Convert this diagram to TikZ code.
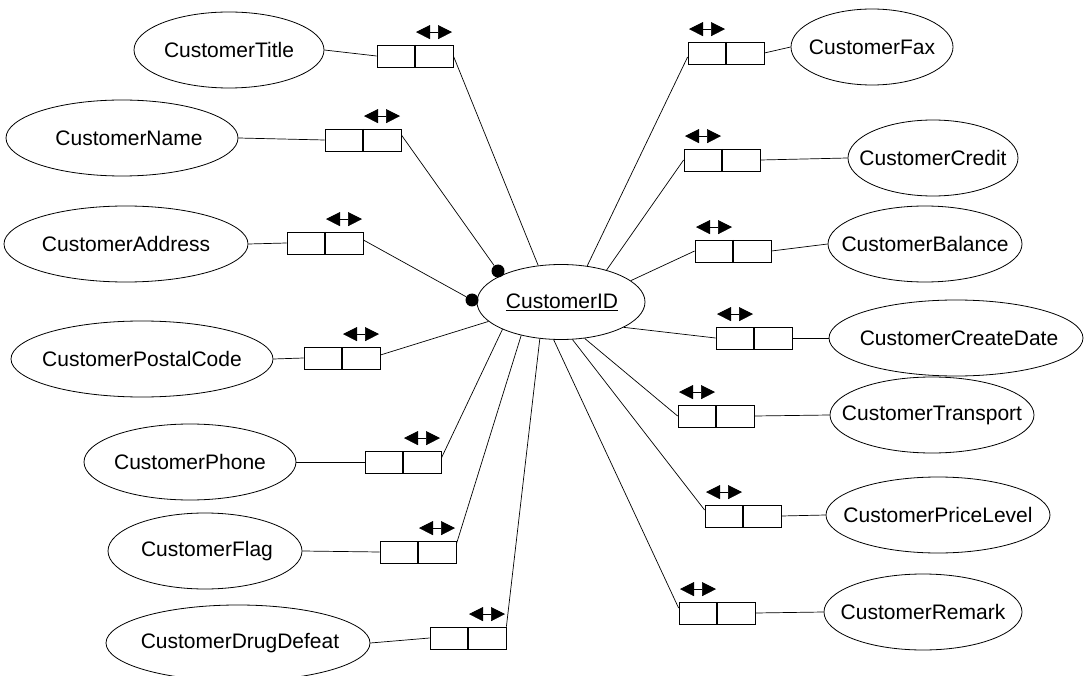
\documentclass[tikz,border=0pt]{standalone}
\usepackage{fontspec}
\setmainfont{Liberation Sans}
\usetikzlibrary{arrows.meta,shapes.geometric}
\newcommand\keyarrL[1]{\draw[dbl] ([xshift=1pt,yshift=12.5pt]#1.north) -- ([xshift=37pt,yshift=12.5pt]#1.north);}
\newcommand\keyarrR[1]{\draw[dbl] ([xshift=-37pt,yshift=12.5pt]#1.north) -- ([xshift=-1pt,yshift=12.5pt]#1.north);}
\begin{document}
\begin{tikzpicture}[x=1pt,y=-1pt,
  attr/.style={draw, ellipse, line width=0.8pt, minimum height=76pt, inner sep=0pt},
  lbl/.style={font=\fontsize{21}{25}\selectfont, inner sep=0pt},
  keybox/.style={draw, rectangle, line width=0.8pt, minimum width=76pt, minimum height=22pt, inner sep=0pt,
    path picture={\draw[line width=1.3pt] (path picture bounding box.north) -- (path picture bounding box.south);}},
  conn/.style={line width=0.7pt},
  dbl/.style={line width=0.5pt, {Triangle[length=14pt,width=14pt]}-{Triangle[length=14pt,width=14pt]}},
  dot/.style={circle, fill, inner sep=0pt, minimum size=13pt}
]
\useasboundingbox (0,0) rectangle (1084,676);

% central entity
\node[attr, minimum width=168pt, minimum height=75pt] (cid) at (561,302) {};
\node[lbl] (cidt) at (562,302) {\underline{CustomerID}};

% left attributes
\node[attr, minimum width=190pt] (title) at (229,50) {};
\node[lbl] (titlet) at (title) {CustomerTitle};
\node[attr, minimum width=232pt] (name) at (122,138) {};
\node[lbl] (namet) at (129,138) {CustomerName};
\node[attr, minimum width=244pt] (addr) at (126,244) {};
\node[lbl] (addrt) at (addr) {CustomerAddress};
\node[attr, minimum width=262pt] (postal) at (142,359) {};
\node[lbl] (postalt) at (postal) {CustomerPostalCode};
\node[attr, minimum width=212pt] (phone) at (190,462) {};
\node[lbl] (phonet) at (phone) {CustomerPhone};
\node[attr, minimum width=194pt] (flag) at (205,551) {};
\node[lbl] (flagt) at (207,551) {CustomerFlag};
\node[attr, minimum width=264pt] (drug) at (238,643) {};
\node[lbl] (drugt) at (240,643) {CustomerDrugDefeat};

% right attributes
\node[attr, minimum width=162pt] (fax) at (872,47) {};
\node[lbl] (faxt) at (fax) {CustomerFax};
\node[attr, minimum width=170pt] (credit) at (933,158) {};
\node[lbl] (creditt) at (credit) {CustomerCredit};
\node[attr, minimum width=194pt] (balance) at (925,244) {};
\node[lbl] (balancet) at (balance) {CustomerBalance};
\node[attr, minimum width=254pt] (create) at (956,338) {};
\node[lbl] (createt) at (959,338) {CustomerCreateDate};
\node[attr, minimum width=204pt] (transport) at (932,415) {};
\node[lbl] (transportt) at (transport) {CustomerTransport};
\node[attr, minimum width=224pt] (price) at (938,515) {};
\node[lbl] (pricet) at (price) {CustomerPriceLevel};
\node[attr, minimum width=198pt] (remark) at (923,612) {};
\node[lbl] (remarkt) at (remark) {CustomerRemark};

% key boxes
\node[keybox] (bTitle) at (415,56) {};
\node[keybox] (bName) at (363,140) {};
\node[keybox] (bAddr) at (325,243) {};
\node[keybox] (bPostal) at (342,358) {};
\node[keybox] (bPhone) at (403,462) {};
\node[keybox] (bFlag) at (418,552) {};
\node[keybox] (bDrug) at (468,638) {};
\node[keybox] (bFax) at (726,53) {};
\node[keybox] (bCredit) at (722,160) {};
\node[keybox] (bBalance) at (733,251) {};
\node[keybox] (bCreate) at (754,338) {};
\node[keybox] (bTransport) at (716,416) {};
\node[keybox] (bPrice) at (743,516) {};
\node[keybox] (bRemark) at (717,613) {};

% dots
\node[dot] (d1) at (498,271) {};
\node[dot] (d2) at (472,300) {};

% double arrows
\keyarrL{bTitle}\keyarrL{bName}\keyarrL{bAddr}\keyarrL{bPostal}
\keyarrL{bPhone}\keyarrL{bFlag}\keyarrL{bDrug}
\keyarrR{bFax}\keyarrR{bCredit}\keyarrR{bBalance}\keyarrR{bCreate}
\keyarrR{bTransport}\keyarrR{bPrice}\keyarrR{bRemark}

% attribute to box
\draw[conn] (title.east) -- (bTitle.west);
\draw[conn] (name.east) -- (bName.west);
\draw[conn] (addr.east) -- (bAddr.west);
\draw[conn] (postal.east) -- (bPostal.west);
\draw[conn] (phone.east) -- (bPhone.west);
\draw[conn] (flag.east) -- (bFlag.west);
\draw[conn] (drug.east) -- (bDrug.west);
\draw[conn] (bFax.east) -- (fax.west);
\draw[conn] (bCredit.east) -- (credit.west);
\draw[conn] (bBalance.east) -- (balance.west);
\draw[conn] (bCreate.east) -- (create.west);
\draw[conn] (bTransport.east) -- (transport.west);
\draw[conn] (bPrice.east) -- (price.west);
\draw[conn] (bRemark.east) -- (remark.west);

% box to central entity
\draw[conn] (bTitle.east) -- (cid.122);
\draw[conn] ([yshift=5pt]bName.east) -- (d1);
\draw[conn] ([yshift=3pt]bAddr.east) -- (d2);
\draw[conn] ([yshift=3pt]bPostal.east) -- (cid.195);
\draw[conn] ([yshift=4pt]bPhone.east) -- (cid.205);
\draw[conn] ([yshift=8pt]bFlag.east) -- (cid.220);
\draw[conn] (bDrug.north east) -- (cid.240);
\draw[conn] ([yshift=-4pt]bFax.west) -- (cid.54);
\draw[conn] (bCredit.west) -- (cid.35);
\draw[conn] (bBalance.west) -- (cid.17);
\draw[conn] (bCreate.west) -- (cid.338);
\draw[conn] (bTransport.west) -- (cid.303);
\draw[conn] ([yshift=6pt]bPrice.west) -- (cid.287);
\draw[conn] ([yshift=5pt]bRemark.west) -- (cid.259);
\end{tikzpicture}
\end{document}
